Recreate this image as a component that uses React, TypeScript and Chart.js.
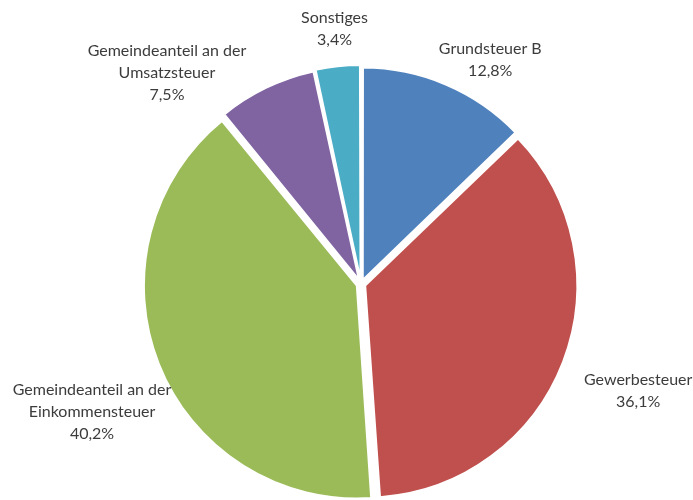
import React, { useEffect, useRef } from "react";
import { Chart, registerables } from "chart.js";

Chart.register(...registerables);

const categories = [
  "Grundsteuer B",
  "Gewerbesteuer",
  "Gemeindeanteil an der Einkommensteuer",
  "Gemeindeanteil an der Umsatzsteuer",
  "Sonstiges",
];
const values = [12.8, 36.1, 40.2, 7.5, 3.4];
const colors = ["#4F81BD", "#C0504D", "#9BBB59", "#8064A2", "#4BACC6"];

// label layout (angle shift in degrees, distance beyond the rim in px)
const labelAngleShift = [6.9, 0, -3.9, -16.8, 0.2];
const labelGap = [48, 86, 87, 76, 46];

const FONT_SIZE = 16;
const LINE = 22;
const FONT = `${FONT_SIZE}px Lato`;

function fmt(v: number) {
  return v.toFixed(1).replace(".", ",") + "%";
}

function wrap(ctx: CanvasRenderingContext2D, text: string, maxW: number) {
  const words = text.split(" ");
  const lines: string[] = [];
  let cur = "";
  for (const w of words) {
    const t = cur ? cur + " " + w : w;
    if (ctx.measureText(t).width > maxW && cur) {
      lines.push(cur);
      cur = w;
    } else cur = t;
  }
  if (cur) lines.push(cur);
  return lines;
}

const labelPlugin = {
  id: "outLabels",
  afterDatasetsDraw(chart: any) {
    const ctx: CanvasRenderingContext2D = chart.ctx;
    const meta = chart.getDatasetMeta(0);
    ctx.save();
    ctx.font = FONT;
    ctx.fillStyle = "#3c3c3c";
    ctx.textAlign = "center";
    ctx.textBaseline = "middle";
    meta.data.forEach((arc: any, i: number) => {
      const { x, y, startAngle, endAngle, outerRadius } = arc.getProps(
        ["x", "y", "startAngle", "endAngle", "outerRadius"],
        true
      );
      const mid = (startAngle + endAngle) / 2 + (labelAngleShift[i] * Math.PI) / 180;
      const dist = outerRadius + labelGap[i];
      const lx = x + Math.cos(mid) * dist;
      const ly = y + Math.sin(mid) * dist;
      const lines = [...wrap(ctx, categories[i], 180), fmt(values[i])];
      const top = ly - ((lines.length - 1) * LINE) / 2;
      lines.forEach((t, j) => ctx.fillText(t, lx, top + j * LINE));
    });
    ctx.restore();
  },
};

export default function App() {
  const ref = useRef<HTMLCanvasElement | null>(null);
  useEffect(() => {
    if (!ref.current) return;
    const chart = new Chart(ref.current, {
      type: "pie",
      data: {
        labels: categories,
        datasets: [
          {
            data: values,
            backgroundColor: colors,
            borderColor: "#ffffff",
            borderWidth: 2,
            offset: 18,
          },
        ],
      },
      options: {
        responsive: false,
        animation: false,
        events: [],
        radius: 211,
        layout: { padding: { left: 29, right: 0, top: 68, bottom: 0 } },
        plugins: {
          legend: { display: false },
          tooltip: { enabled: false },
        },
      } as any,
      plugins: [labelPlugin],
    });
    return () => chart.destroy();
  }, []);
  return (
    <div style={{ position: "absolute", left: 0, top: 0, width: 693, height: 500, background: "#fff" }}>
      <canvas ref={ref} width={693} height={500} />
    </div>
  );
}
